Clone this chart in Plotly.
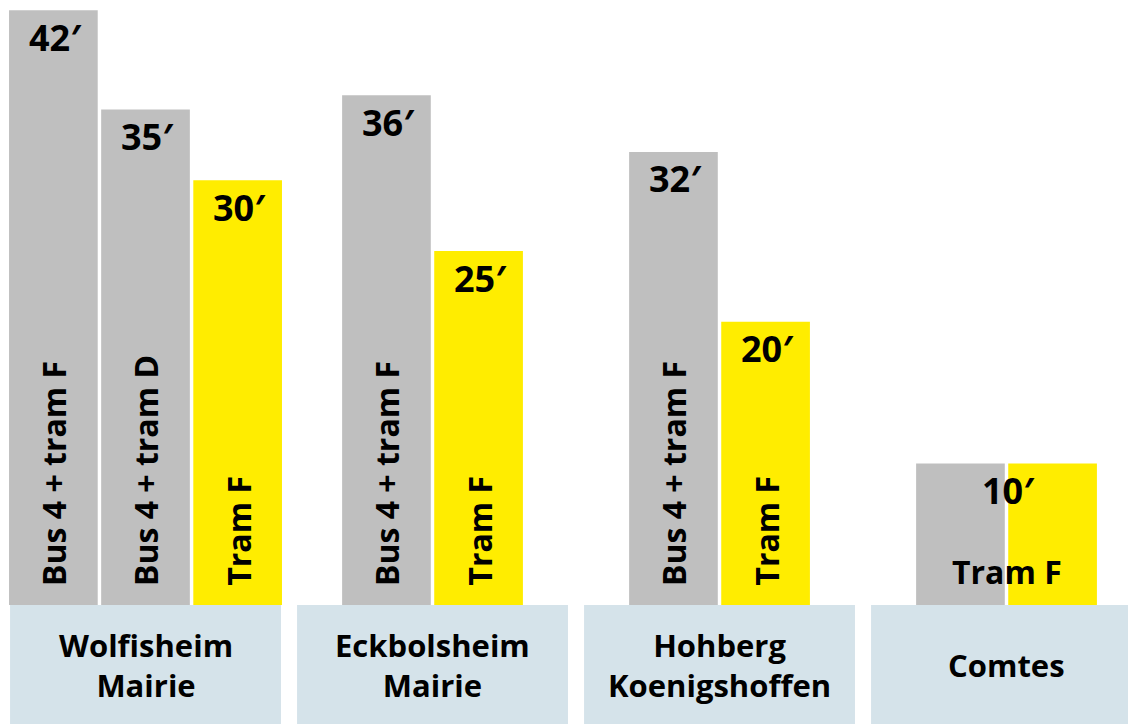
import plotly.graph_objects as go

# ---------------- data ----------------
groups = ["Wolfisheim<br>Mairie", "Eckbolsheim<br>Mairie", "Hohberg<br>Koenigshoffen", "Comtes"]
group_minutes = [[42, 35, 30], [36, 25], [32, 20], [10, 10]]
group_modes = [["bus", "bus", "tram"], ["bus", "tram"], ["bus", "tram"], ["bus", "tram"]]
group_routes = [["Bus 4 + tram F", "Bus 4 + tram D", "Tram F"],
                ["Bus 4 + tram F", "Tram F"],
                ["Bus 4 + tram F", "Tram F"],
                ["Tram F"]]  # one shared label when all options take the same time

# ---------------- styles ----------------
colors = {"bus": "#BFBFBF", "tram": "#FFED00"}
box_color = "#D5E3EA"
FONT = "Open Sans"
bar_width = 0.309
bar_step = 0.321
box_half = 0.472


def fnt(size):
    return dict(family=FONT, size=size, color="black", weight=700)


xs = {"bus": [], "tram": []}
ys = {"bus": [], "tram": []}
annotations = []

for gi, (mins, modes, routes) in enumerate(zip(group_minutes, group_modes, group_routes)):
    n = len(mins)
    centers = [gi + (k - (n - 1) / 2) * bar_step for k in range(n)]
    for c, m, md in zip(centers, mins, modes):
        xs[md].append(c)
        ys[md].append(m)
    if len(set(mins)) == 1 and len(routes) == 1:
        annotations.append(dict(x=gi, y=mins[0], text=f"{mins[0]}\u2032", showarrow=False,
                                yanchor="middle", yshift=-27, xshift=2, font=fnt(36)))
        annotations.append(dict(x=gi, y=0, text=routes[0], showarrow=False,
                                yanchor="middle", yshift=34, font=fnt(32)))
    else:
        for c, m, r in zip(centers, mins, routes):
            annotations.append(dict(x=c, y=m, text=f"{m}\u2032", showarrow=False,
                                    yanchor="middle", yshift=-27, xshift=2, font=fnt(36)))
            annotations.append(dict(x=c, y=0, text=r, showarrow=False, textangle=-90,
                                    yanchor="bottom", yshift=17, font=fnt(32)))
    annotations.append(dict(x=gi, y=0, text=groups[gi], showarrow=False,
                            yanchor="middle", yshift=-60, font=fnt(31)))

fig = go.Figure()
for md in ["bus", "tram"]:
    fig.add_trace(go.Bar(x=xs[md], y=ys[md], width=bar_width,
                         marker=dict(color=colors[md], line=dict(width=0)),
                         hoverinfo="skip", showlegend=False))

shapes = [dict(type="rect", xref="x", yref="y", x0=gi - box_half, x1=gi + box_half,
               y0=-10, y1=0, fillcolor=box_color, line=dict(width=0), layer="below")
          for gi in range(len(groups))]

fig.update_layout(
    width=1128, height=724,
    margin=dict(l=0, r=0, t=0, b=0),
    paper_bgcolor="white", plot_bgcolor="white",
    barmode="overlay",
    xaxis=dict(visible=False, range=[-0.507, 3.4233]),
    yaxis=dict(visible=False, range=[-8.40, 42.73]),
    shapes=shapes,
    annotations=annotations,
)

fig.write_html("out.html", config={"displayModeBar": False},
               post_script="document.body.style.margin='0px';")
